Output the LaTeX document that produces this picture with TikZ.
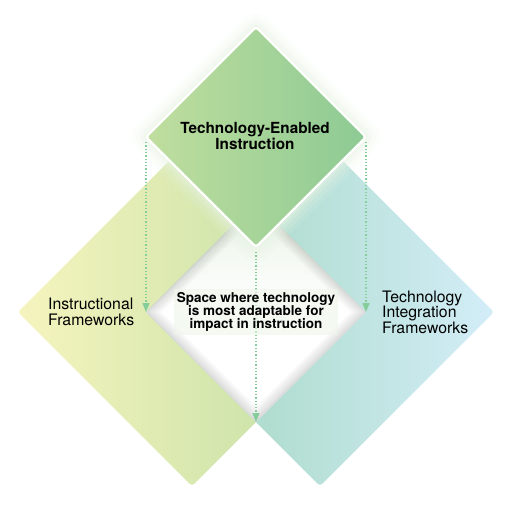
\documentclass[tikz,border=0pt]{standalone}
\usepackage{fontspec}
\setmainfont{TeX Gyre Heros}
\usetikzlibrary{shapes.geometric,arrows.meta}
\definecolor{instrL}{HTML}{F6F4BE}
\definecolor{instrR}{HTML}{BCDDA2}
\definecolor{techL}{HTML}{9FD5BB}
\definecolor{techR}{HTML}{D3EDF8}
\definecolor{teiL}{HTML}{C0DE9E}
\definecolor{teiR}{HTML}{8DCA94}
\definecolor{glowcol}{HTML}{E8F4E4}
\definecolor{arrowgreen}{HTML}{86CD9C}
\definecolor{spacetop}{HTML}{EAF3E6}
\definecolor{labelbg}{HTML}{EEF5EA}
\begin{document}
\begin{tikzpicture}[x=1pt,y=-1pt,
  diamondbox/.style={diamond, inner sep=0pt, outer sep=0pt, rounded corners=3pt},
  flowarrow/.style={draw=arrowgreen, line width=1.3pt, dash pattern=on 1.3pt off 2pt,
    -{Triangle[width=7pt,length=9pt]}, shorten <=5pt},
  sidelabel/.style={inner sep=0pt, align=left, anchor=west,
    font=\fontsize{15.8}{15.5}\selectfont},
  titlelabel/.style={inner sep=0pt, align=center,
    font=\fontsize{15.3}{14}\selectfont\bfseries},
  spacelabel/.style={inner xsep=3pt, inner ysep=3pt, align=center, fill=labelbg, fill opacity=0.6, text opacity=1,
    font=\fontsize{13.5}{13.3}\selectfont\bfseries}]
\useasboundingbox (0,0) rectangle (512,512);
% side diamonds
\node[diamondbox, minimum width=348pt, minimum height=348pt, left color=instrL, right color=instrR] (instr) at (192,312) {};
\node[diamondbox, minimum width=348pt, minimum height=348pt, left color=techL, right color=techR] (tech) at (320,312) {};
% overlap space
\node[diamondbox, rounded corners=0pt, minimum width=220pt, minimum height=220pt, top color=spacetop, bottom color=white, middle color=white] (space) at (256,312) {};
\begin{scope}
  \clip (space.north) -- (space.east) -- (space.south) -- (space.west) -- cycle;
  \foreach \w in {22,18,14,10,6,3}
    \draw[line width=\w pt, draw=black, draw opacity=0.022, shift={(0,-4)}]
      (space.north) -- (space.east) -- (space.south) -- (space.west) -- cycle;
\end{scope}
% glow round the top diamond
\foreach \w/\o in {30/0.12, 22/0.18, 14/0.25, 7/0.35}
  \node[diamondbox, minimum width=220pt, minimum height=220pt, draw=glowcol, line width=\w pt, draw opacity=\o] at (256,137) {};
% top diamond
\node[diamondbox, minimum width=220pt, minimum height=220pt, left color=teiL, right color=teiR, draw=white, line width=2.2pt] (tei) at (256,137) {};
% dotted arrows
\draw[flowarrow] (tei.west) -- (space.west);
\draw[flowarrow] (tei.east) -- (space.east);
\draw[flowarrow] (tei.south) -- (space.south);
% labels
\node[titlelabel] (teilabel) at (255,136) {Technology-Enabled\\Instruction};
\node[spacelabel] (spacetext) at (256,312) {Space where technology\\is most adaptable for\\impact in instruction};
\node[sidelabel] (instrlabel) at (48,312) {Instructional\\Frameworks};
\node[sidelabel] (techlabel) at (382,312) {Technology\\Integration\\Frameworks};
\end{tikzpicture}
\end{document}
